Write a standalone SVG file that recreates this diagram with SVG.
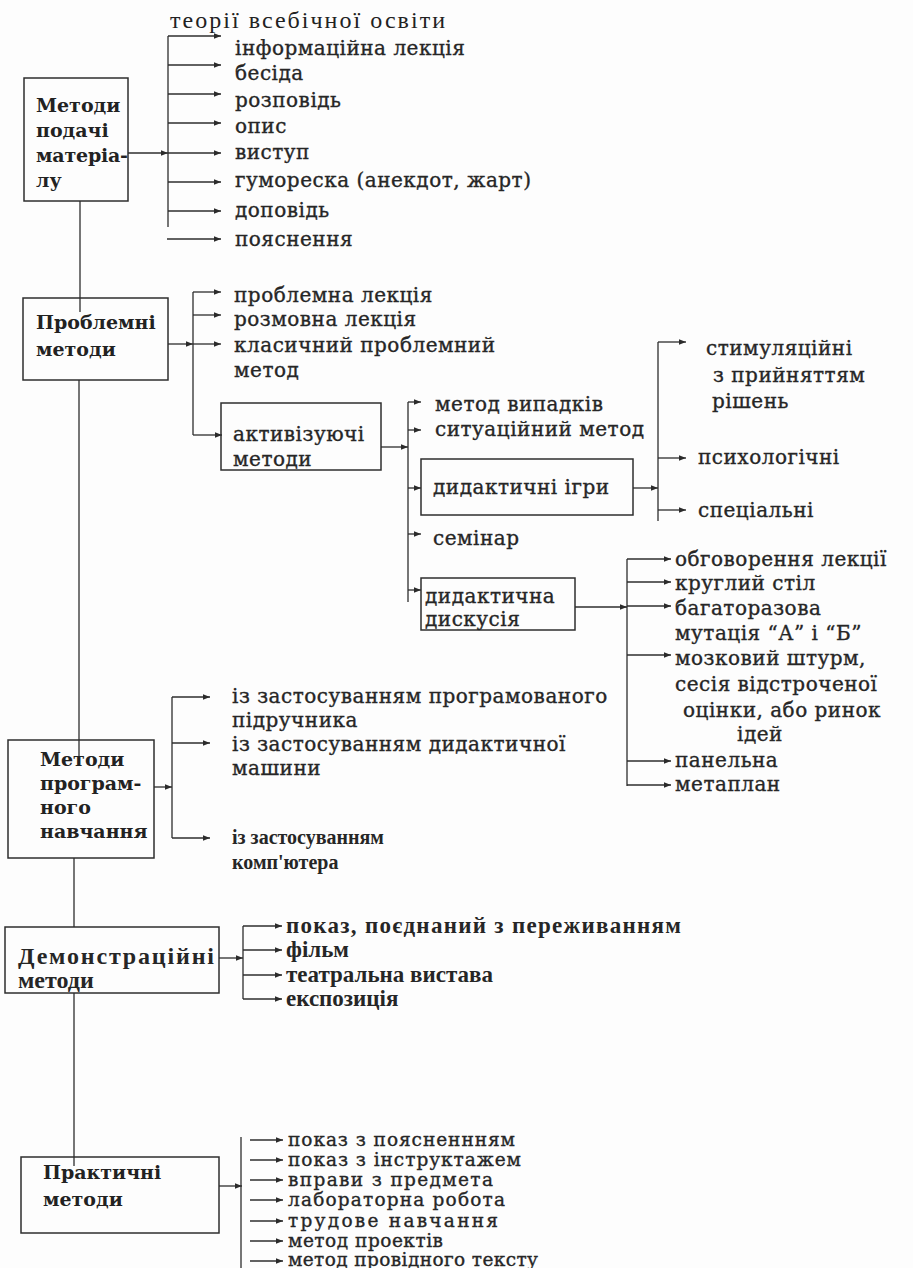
<svg xmlns="http://www.w3.org/2000/svg" width="913" height="1268" viewBox="0 0 913 1268">
<defs>
<marker id="ah" markerUnits="userSpaceOnUse" markerWidth="8" markerHeight="6" refX="7" refY="2.75" orient="auto">
<path d="M0,0 L7,2.75 L0,5.5 z" fill="#2b2b2b"/>
</marker>
<style>
.ln{stroke:#2e2e2e;stroke-width:1.3;fill:none}
.ar{stroke:#2e2e2e;stroke-width:1.3;fill:none;marker-end:url(#ah)}
.bx{stroke:#2e2e2e;stroke-width:1.5;fill:none}
.t{font-family:"DejaVu Serif","Liberation Serif",serif;font-size:20px;letter-spacing:0.5px;fill:#262626;stroke:#262626;stroke-width:0.35}
.b{font-family:"DejaVu Serif","Liberation Serif",serif;font-size:19px;font-weight:bold;fill:#222}
.s{font-family:"DejaVu Serif","Liberation Serif",serif;font-size:18.5px;fill:#262626;stroke:#262626;stroke-width:0.35}
.n{font-family:"Liberation Serif",serif;font-size:23px;font-weight:bold;fill:#262626}
.c{font-family:"Liberation Serif",serif;font-size:20px;font-weight:bold;fill:#262626}
.h{font-family:"Liberation Serif",serif;font-size:24px;fill:#222}
</style>
</defs>
<rect width="913" height="1268" fill="#fdfdfd"/>

<text class="h" x="170" y="28" textLength="275">теорії всебічної освіти</text>

<g id="connectors">
<path class="ln" d="M80,201 V312"/>
<path class="ln" d="M79,380 V757"/>
<path class="ln" d="M74,858 V927"/>
<path class="ln" d="M74,993 V1166"/>
<path class="ar" d="M128,153 H168"/>
<path class="ln" d="M168,36 V227"/>
<path class="ar" d="M168,36 H221"/>
<path class="ar" d="M168,65 H221"/>
<path class="ar" d="M168,94 H221"/>
<path class="ar" d="M168,123 H221"/>
<path class="ar" d="M168,153 H221"/>
<path class="ar" d="M168,182 H221"/>
<path class="ar" d="M168,211 H221"/>
<path class="ar" d="M167,239 H221"/>
<path class="ar" d="M168,344 H193"/>
<path class="ln" d="M193,292 V435"/>
<path class="ar" d="M193,292 H221"/>
<path class="ar" d="M193,315 H221"/>
<path class="ar" d="M193,344 H221"/>
<path class="ar" d="M193,435 H222"/>
<path class="ar" d="M381,447 H408"/>
<path class="ln" d="M408,402 V602"/>
<path class="ar" d="M408,402 H421"/>
<path class="ar" d="M408,430 H421"/>
<path class="ar" d="M408,488 H421"/>
<path class="ar" d="M408,534 H421"/>
<path class="ar" d="M408,590 H421"/>
<path class="ar" d="M633,488 H658"/>
<path class="ln" d="M658,342 V521"/>
<path class="ar" d="M658,342 H686"/>
<path class="ar" d="M658,458 H686"/>
<path class="ar" d="M658,510 H686"/>
<path class="ar" d="M575,607 H627"/>
<path class="ln" d="M627,559 V786"/>
<path class="ar" d="M627,559 H671"/>
<path class="ar" d="M627,582 H671"/>
<path class="ar" d="M627,606 H671"/>
<path class="ar" d="M627,655 H671"/>
<path class="ar" d="M627,761 H671"/>
<path class="ar" d="M627,785 H671"/>
<path class="ar" d="M154,787 H172"/>
<path class="ln" d="M172,697 V838"/>
<path class="ar" d="M172,697 H210"/>
<path class="ar" d="M172,743 H210"/>
<path class="ar" d="M172,838 H210"/>
<path class="ar" d="M219,958 H243"/>
<path class="ln" d="M243,926 V999"/>
<path class="ar" d="M243,926 H282"/>
<path class="ar" d="M243,950 H282"/>
<path class="ar" d="M243,975 H282"/>
<path class="ar" d="M243,999 H282"/>
<path class="ar" d="M219,1186 H242"/>
<path class="ln" d="M241,1137 V1268"/>
<path class="ar" d="M250,1140 H283"/>
<path class="ar" d="M250,1160 H283"/>
<path class="ar" d="M250,1180 H283"/>
<path class="ar" d="M250,1200 H283"/>
<path class="ar" d="M250,1221 H283"/>
<path class="ar" d="M250,1241 H283"/>
<path class="ar" d="M250,1261 H283"/>
</g>

<g id="presentation">
<rect class="bx" x="24" y="78" width="104" height="123"/>
<text class="b" x="36" y="112">Методи</text>
<text class="b" x="36" y="137">подачі</text>
<text class="b" x="36" y="162" textLength="92">матеріа-</text>
<text class="b" x="36" y="187">лу</text>
</g>
<g id="presentation-items">
<text class="t" x="235" y="55">інформаційна лекція</text>
<text class="t" x="235" y="80">бесіда</text>
<text class="t" x="235" y="107">розповідь</text>
<text class="t" x="235" y="133">опис</text>
<text class="t" x="235" y="159">виступ</text>
<text class="t" x="235" y="187">гумореска (анекдот, жарт)</text>
<text class="t" x="235" y="217">доповідь</text>
<text class="t" x="235" y="246">пояснення</text>
</g>

<g id="problem">
<rect class="bx" x="23" y="298" width="145" height="82"/>
<text class="b" x="36" y="329">Проблемні</text>
<text class="b" x="36" y="356">методи</text>
</g>
<g id="problem-items">
<text class="t" x="234" y="302">проблемна лекція</text>
<text class="t" x="234" y="326">розмовна лекція</text>
<text class="t" x="234" y="352">класичний проблемний</text>
<text class="t" x="234" y="377">метод</text>
</g>

<g id="activating">
<rect class="bx" x="221" y="403" width="160" height="67"/>
<text class="t" x="233" y="441">активізуючі</text>
<text class="t" x="233" y="466">методи</text>
</g>
<g id="activating-items">
<text class="t" x="435" y="411">метод випадків</text>
<text class="t" x="435" y="436">ситуаційний метод</text>
<text class="t" x="433" y="545">семінар</text>
</g>

<g id="games">
<rect class="bx" x="421" y="459" width="212" height="56"/>
<text class="t" x="433" y="494">дидактичні ігри</text>
</g>
<g id="games-items">
<text class="t" x="706" y="355">стимуляційні</text>
<text class="t" x="713" y="382">з прийняттям</text>
<text class="t" x="712" y="408">рішень</text>
<text class="t" x="698" y="464">психологічні</text>
<text class="t" x="698" y="517">спеціальні</text>
</g>

<g id="discussion">
<rect class="bx" x="421" y="578" width="154" height="52"/>
<text class="t" x="425" y="603">дидактична</text>
<text class="t" x="425" y="626">дискусія</text>
</g>
<g id="discussion-items">
<text class="t" x="675" y="566">обговорення лекції</text>
<text class="t" x="675" y="590">круглий стіл</text>
<text class="t" x="675" y="615">багаторазова</text>
<text class="t" x="675" y="640">мутація “А” і “Б”</text>
<text class="t" x="675" y="665">мозковий штурм,</text>
<text class="t" x="675" y="691">сесія відстроченої</text>
<text class="t" x="683" y="717">оцінки, або ринок</text>
<text class="t" x="737" y="741">ідей</text>
<text class="t" x="675" y="767">панельна</text>
<text class="t" x="675" y="791">метаплан</text>
</g>

<g id="programmed">
<rect class="bx" x="8" y="740" width="146" height="118"/>
<text class="b" x="40" y="766">Методи</text>
<text class="b" x="40" y="790">програм-</text>
<text class="b" x="40" y="814">ного</text>
<text class="b" x="40" y="838">навчання</text>
</g>
<g id="programmed-items">
<text class="t" x="232" y="703">із застосуванням програмованого</text>
<text class="t" x="232" y="727">підручника</text>
<text class="t" x="232" y="751">із застосуванням дидактичної</text>
<text class="t" x="232" y="775">машини</text>
<text class="c" x="232" y="844">із застосуванням</text>
<text class="c" x="232" y="869">комп'ютера</text>
</g>

<g id="demonstration">
<rect class="bx" x="5" y="927" width="214" height="66"/>
<text class="n" x="18" y="964" textLength="196" style="font-size:24px">Демонстраційні</text>
<text class="n" x="18" y="988" style="font-size:24px">методи</text>
</g>
<g id="demonstration-items">
<text class="n" x="286" y="933" textLength="395">показ, поєднаний з переживанням</text>
<text class="n" x="286" y="957">фільм</text>
<text class="n" x="286" y="982">театральна вистава</text>
<text class="n" x="286" y="1006">експозиція</text>
</g>

<g id="practical">
<rect class="bx" x="21" y="1157" width="198" height="76"/>
<text class="b" x="43" y="1179">Практичні</text>
<text class="b" x="43" y="1206">методи</text>
</g>
<g id="practical-items">
<text class="s" x="288" y="1146" textLength="227">показ з поясненнням</text>
<text class="s" x="288" y="1166" textLength="233">показ з інструктажем</text>
<text class="s" x="288" y="1186" textLength="205">вправи з предмета</text>
<text class="s" x="288" y="1206" textLength="217">лабораторна робота</text>
<text class="s" x="288" y="1227" textLength="210">трудове навчання</text>
<text class="s" x="288" y="1247" textLength="155">метод проектів</text>
<text class="s" x="288" y="1266" textLength="250">метод провідного тексту</text>
</g>
</svg>
